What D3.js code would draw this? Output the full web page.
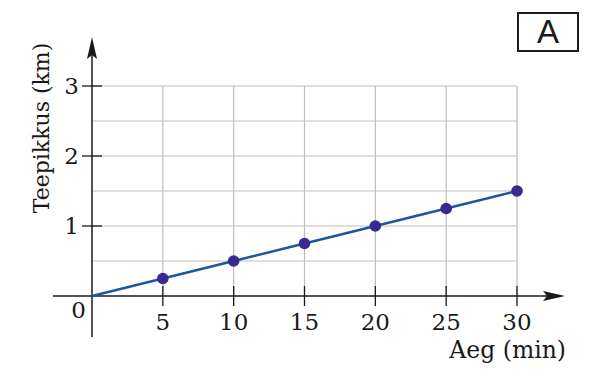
<!doctype html>
<html>
<head>
<meta charset="utf-8">
<script src="https://d3js.org/d3.v7.min.js"></script>
<style>
  body { margin: 0; background: #fff; }
  text { font-family: "DejaVu Serif", "Liberation Serif", serif; fill: #1a1a1a; }
</style>
</head>
<body>
<svg width="600" height="390"></svg>
<script>
  // data
  var minutes = [5, 10, 15, 20, 25, 30];
  var distance = [0.25, 0.5, 0.75, 1, 1.25, 1.5];
  var xTicks = [5, 10, 15, 20, 25, 30];
  var yTicks = [1, 2, 3];
  var yGrid = [0.5, 1, 1.5, 2, 2.5, 3];

  var svg = d3.select("svg");

  var x = d3.scaleLinear().domain([0, 30]).range([92, 517]);
  var y = d3.scaleLinear().domain([0, 3]).range([296, 86]);

  // grid
  svg.selectAll(".vgrid").data(xTicks).enter().append("line")
    .attr("x1", d => x(d)).attr("x2", d => x(d))
    .attr("y1", y(0)).attr("y2", y(3))
    .attr("stroke", "#bdbdbd").attr("stroke-width", 1.2);
  svg.selectAll(".hgrid").data(yGrid).enter().append("line")
    .attr("x1", x(0)).attr("x2", x(30))
    .attr("y1", d => y(d)).attr("y2", d => y(d))
    .attr("stroke", "#bdbdbd").attr("stroke-width", 1.2);

  // axes
  svg.append("line")
    .attr("x1", 53).attr("x2", 548)
    .attr("y1", y(0)).attr("y2", y(0))
    .attr("stroke", "#1a1a1a").attr("stroke-width", 1.5);
  svg.append("path")
    .attr("d", "M565," + y(0) + " L543," + (y(0) - 5) + " L547," + y(0) + " L543," + (y(0) + 5) + " Z")
    .attr("fill", "#1a1a1a");
  svg.append("line")
    .attr("x1", x(0)).attr("x2", x(0))
    .attr("y1", 337).attr("y2", 52)
    .attr("stroke", "#1a1a1a").attr("stroke-width", 1.5);
  svg.append("path")
    .attr("d", "M" + x(0) + ",37 L" + (x(0) - 5) + ",59 L" + x(0) + ",55 L" + (x(0) + 5) + ",59 Z")
    .attr("fill", "#1a1a1a");

  // ticks
  svg.selectAll(".xt").data(xTicks).enter().append("line")
    .attr("x1", d => x(d)).attr("x2", d => x(d))
    .attr("y1", y(0) - 10).attr("y2", y(0) + 10)
    .attr("stroke", "#1a1a1a").attr("stroke-width", 1.3);
  svg.selectAll(".yt").data(yTicks).enter().append("line")
    .attr("x1", x(0) - 10).attr("x2", x(0) + 10)
    .attr("y1", d => y(d)).attr("y2", d => y(d))
    .attr("stroke", "#1a1a1a").attr("stroke-width", 1.3);

  svg.selectAll(".xl").data(xTicks).enter().append("text")
    .attr("x", d => x(d)).attr("y", 330)
    .attr("text-anchor", "middle").attr("font-size", 23)
    .text(d => d);
  svg.selectAll(".yl").data(yTicks).enter().append("text")
    .attr("x", 79).attr("y", d => y(d) + 8)
    .attr("text-anchor", "end").attr("font-size", 23)
    .text(d => d);
  svg.append("text")
    .attr("x", 86).attr("y", 318)
    .attr("text-anchor", "end").attr("font-size", 23)
    .text("0");

  // axis titles
  svg.append("text")
    .attr("x", 566).attr("y", 358)
    .attr("text-anchor", "end").attr("font-size", 23.5)
    .text("Aeg (min)");
  svg.append("text")
    .attr("transform", "translate(49,128) rotate(-90)")
    .attr("text-anchor", "middle").attr("font-size", 22)
    .text("Teepikkus (km)");

  // line + points
  var line = d3.line().x(d => x(d[0])).y(d => y(d[1]));
  var pts = [[0, 0]].concat(minutes.map((m, i) => [m, distance[i]]));
  svg.append("path")
    .attr("d", line(pts))
    .attr("fill", "none").attr("stroke", "#1d56a0").attr("stroke-width", 2.5);
  svg.selectAll(".dot").data(minutes).enter().append("circle")
    .attr("cx", d => x(d)).attr("cy", (d, i) => y(distance[i]))
    .attr("r", 5.8).attr("fill", "#382b8f");

  // label box
  svg.append("rect")
    .attr("x", 518).attr("y", 13).attr("width", 60).attr("height", 38)
    .attr("fill", "none").attr("stroke", "#1a1a1a").attr("stroke-width", 2);
  svg.append("text")
    .attr("x", 548).attr("y", 43)
    .attr("text-anchor", "middle").attr("font-size", 33)
    .style("font-family", "'Liberation Sans', Arial, sans-serif")
    .text("A");
</script>
</body>
</html>
